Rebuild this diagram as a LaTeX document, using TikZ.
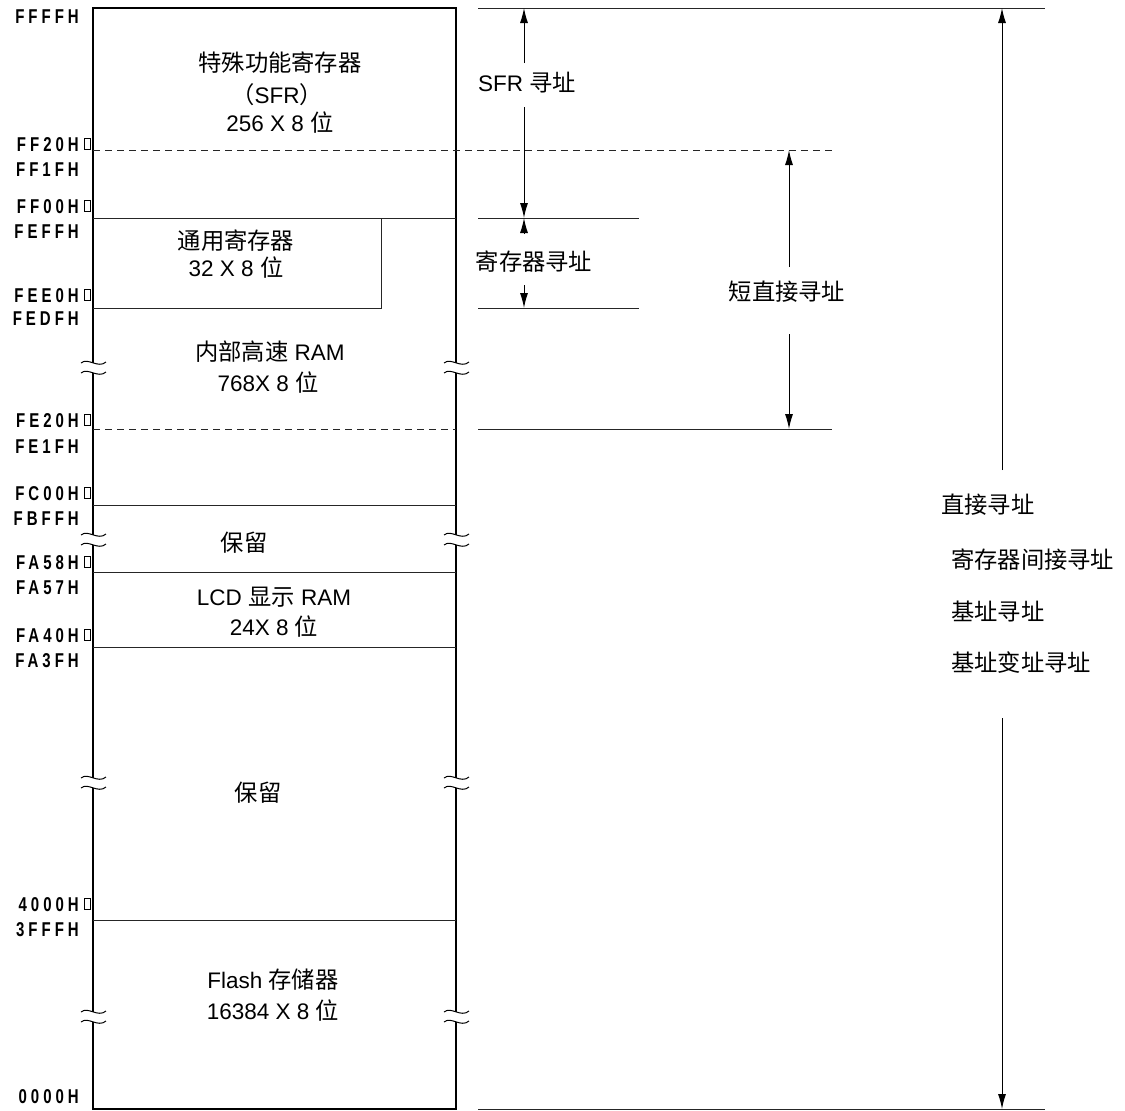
\documentclass[tikz,border=0pt]{standalone}
\usepackage{fontspec}
\setmainfont{Liberation Sans}
\newfontfamily\cjk[Scale=1.035]{Noto Sans CJK SC}
\newfontfamily\addrfont[FakeStretch=0.75,LetterSpace=20]{Liberation Sans Bold}
\newcommand\zh[1]{{\cjk #1}}
\usetikzlibrary{arrows.meta}
\tikzset{
  outer/.style={line width=2pt},
  div/.style={line width=1pt, black!85},
  dashdiv/.style={line width=1pt, black!85, dash pattern=on 7pt off 5pt},
  arr/.style={-{Latex[length=15pt,width=8pt]}, line width=1pt},
  txt/.style={font=\fontsize{22.5}{26}\selectfont, inner sep=0pt, text height=16pt, text depth=0pt},
  addr/.style={font=\addrfont\fontsize{20}{22}\selectfont, inner sep=0pt, text height=14.3pt, text depth=0pt, anchor=east},
  gapbox/.style={line width=1pt},
  brk/.pic={
    \fill[white] (-2.5,-5) rectangle (2.5,5);
    \draw[line width=1pt] (-12,-5) .. controls (-5,-11) and (5,1) .. (13,-6);
    \draw[line width=1pt] (-12,5) .. controls (-5,-1) and (5,11) .. (13,4);
  }
}
\begin{document}
\begin{tikzpicture}[x=1pt,y=-1pt]
\useasboundingbox (0,0) rectangle (1125,1111);
% memory block
\draw[outer] (93,8) rectangle (456,1109);
\draw[dashdiv] (93,150) -- (832,150);
\draw[div] (93,218) -- (456,218);
\draw[div] (381,218) -- (381,308) -- (93,308);
\draw[dashdiv] (93,429) -- (456,429);
\draw[div] (93,505.5) -- (456,505.5);
\draw[div] (93,572.5) -- (456,572.5);
\draw[div] (93,647.5) -- (456,647.5);
\draw[div] (93,920.5) -- (456,920.5);
% break marks
\foreach \yy in {368,540,783,1017} {
  \pic at (93,\yy) {brk};
  \pic at (456,\yy) {brk};
}
% right guide lines
\draw[div] (478,8) -- (1045,8);
\draw[div] (478,218) -- (639,218);
\draw[div] (478,308) -- (639,308);
\draw[div] (478,429) -- (832,429);
\draw[div] (478,1109) -- (1045,1109);
% address labels
\foreach \t/\yy in {FFFFH/16,FF1FH/169,FEFFH/231,FEDFH/318,FE1FH/446,FBFFH/518,FA57H/587,FA3FH/660,3FFFH/929,0000H/1096}
  \node[addr] (a\t) at (79,\yy) {\t};
\foreach \t/\yy in {FF20H/144,FF00H/206,FEE0H/295,FE20H/420,FC00H/493,FA58H/562,FA40H/635,4000H/904} {
  \node[addr] (a\t) at (79,\yy) {\t};
  \draw[gapbox] (84.5,\yy-5.5) rectangle (90.5,\yy+5.5);
}
% block texts
\node[txt] (sfr1) at (280,63) {\zh{特殊功能寄存器}};
\node[txt] (sfr2) at (277,95) {\zh{（}SFR\zh{）}};
\node[txt] (sfr3) at (280,123) {256 X 8 \zh{位}};
\node[txt] (gr1) at (236,241) {\zh{通用寄存器}};
\node[txt] (gr2) at (236,268) {32 X 8 \zh{位}};
\node[txt] (ram1) at (270,352) {\zh{内部高速} RAM};
\node[txt] (ram2) at (268,383) {768X 8 \zh{位}};
\node[txt] (res1) at (244,543) {\zh{保留}};
\node[txt] (lcd1) at (274,597) {LCD \zh{显示} RAM};
\node[txt] (lcd2) at (274,627) {24X 8 \zh{位}};
\node[txt] (res2) at (258,793) {\zh{保留}};
\node[txt] (fl1) at (273,980) {Flash \zh{存储器}};
\node[txt] (fl2) at (273,1011) {16384 X 8 \zh{位}};
% addressing labels and arrows
\node[txt] (sfrad) at (527,83) {SFR \zh{寻址}};
\coordinate (s1) at (524,63); \coordinate (s1e) at (524,8);
\coordinate (s2) at (524,107); \coordinate (s2e) at (524,218);
\draw[arr] (s1) -- (s1e);
\draw[arr] (s2) -- (s2e);
\node[txt] (regad) at (534,262) {\zh{寄存器寻址}};
\coordinate (r1) at (524,234); \coordinate (r1e) at (524,218);
\coordinate (r2) at (524,285); \coordinate (r2e) at (524,308);
\draw[arr] (r1) -- (r1e);
\draw[arr] (r2) -- (r2e);
\node[txt] (shad) at (787,292) {\zh{短直接寻址}};
\coordinate (h1) at (789,267); \coordinate (h1e) at (789,150);
\coordinate (h2) at (789,334); \coordinate (h2e) at (789,429);
\draw[arr] (h1) -- (h1e);
\draw[arr] (h2) -- (h2e);
\coordinate (d1) at (1002,470); \coordinate (d1e) at (1002,8);
\coordinate (d2) at (1002,718); \coordinate (d2e) at (1002,1109);
\draw[arr] (d1) -- (d1e);
\draw[arr] (d2) -- (d2e);
\node[txt,anchor=west] (dir1) at (941,505) {\zh{直接寻址}};
\node[txt,anchor=west] (dir2) at (951,560) {\zh{寄存器间接寻址}};
\node[txt,anchor=west] (dir3) at (951,612) {\zh{基址寻址}};
\node[txt,anchor=west] (dir4) at (951,663) {\zh{基址变址寻址}};
\end{tikzpicture}
\end{document}
